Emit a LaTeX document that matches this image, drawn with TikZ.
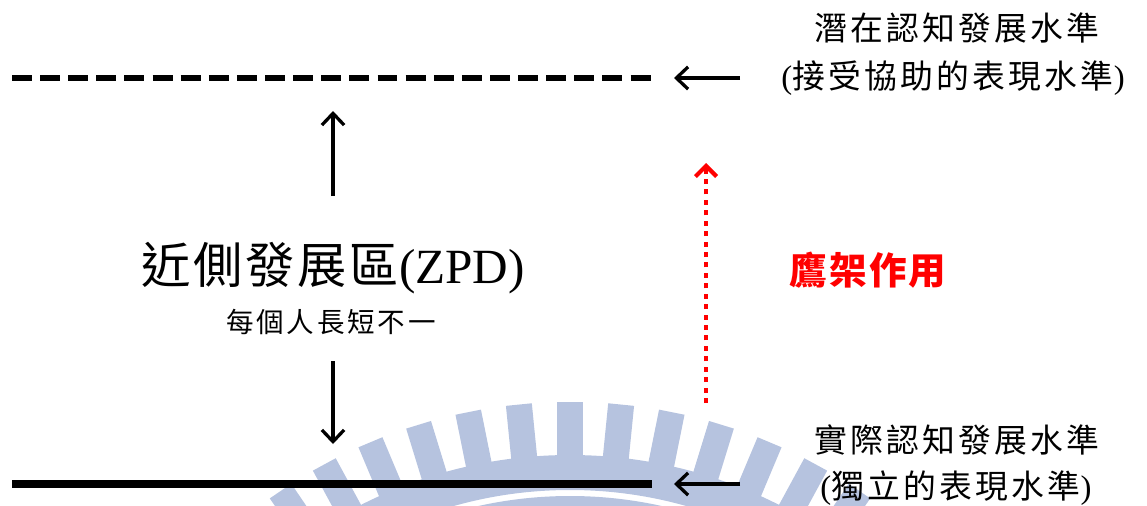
\documentclass[tikz,border=0pt]{standalone}
\usepackage{fontspec}
\setmainfont{Liberation Serif}
\newfontfamily\cjk[LetterSpace=10]{Noto Sans CJK TC}
\newfontfamily\cjkz[LetterSpace=6]{Noto Sans CJK TC}
\usetikzlibrary{arrows.meta}
\definecolor{wm}{RGB}{182,195,223}
\definecolor{scaf}{RGB}{255,0,0}
\tikzset{
  lvl/.style={inner sep=0pt, font=\fontsize{28}{32}\selectfont\cjk},
  zpdtxt/.style={inner sep=0pt, font=\fontsize{42}{46}\selectfont\cjkz},
  subtxt/.style={inner sep=0pt, font=\fontsize{23.5}{27}\selectfont\cjk},
  scaftxt/.style={inner sep=0pt, text=scaf, font=\fontsize{32}{36}\selectfont\cjkz\bfseries},
  arr/.style={line width=2.8pt, -{Straight Barb[length=10pt,width=19pt]}},
  redarr/.style={scaf, line width=3.6pt, dash pattern=on 4.3pt off 4.6pt, -{Straight Barb[length=9pt,width=18pt]}},
  potline/.style={line width=4.3pt, dash pattern=on 17pt off 7pt},
  actline/.style={line width=6pt},
}
\begin{document}
\begin{tikzpicture}[x=0.03cm,y=-0.03cm]
\useasboundingbox (0,0) rectangle (1147,506);
% watermark
\begin{scope}
\clip (0,0) rectangle (1147,506);
\fill[wm, even odd rule] (570,917) circle[radius=462] (570,917) circle[radius=427];
\fill[wm, even odd rule] (570,917) circle[radius=421] (570,917) circle[radius=380];
\foreach \k in {-6,...,6}{
  \fill[wm, rotate around={\k*5.7:(570,917)}] (557,402) rectangle (583,460);
}
\end{scope}
% levels
\coordinate (dL) at (12,78);
\coordinate (dR) at (652,78);
\draw[potline] (dL) -- (dR);
\coordinate (sL) at (12,484);
\coordinate (sR) at (652,484);
\draw[actline] (sL) -- (sR);
% texts
\node[lvl] (pot1) at (957,28) {潛在認知發展水準};
\node[lvl] (pot2) at (953,78) {{\rmfamily(}接受協助的表現水準{\rmfamily)}};
\node[lvl] (act1) at (957,440) {實際認知發展水準};
\node[lvl] (act2) at (956,488) {{\rmfamily(}獨立的表現水準{\rmfamily)}};
\node[zpdtxt] (zpd) at (333,268) {近側發展區{\rmfamily(ZPD)}};
\node[subtxt] (sub) at (331,322) {每個人長短不一};
\node[scaftxt] (scaf) at (868,270) {鷹架作用};
% arrows
\coordinate (pa) at (740,78);
\coordinate (pb) at (674,78);
\draw[arr] (pa) -- (pb);
\coordinate (qa) at (740,484);
\coordinate (qb) at (674,484);
\draw[arr] (qa) -- (qb);
\coordinate (upA) at (333,196);
\coordinate (upB) at (333,111);
\draw[arr] (upA) -- (upB);
\coordinate (dnA) at (333,361);
\coordinate (dnB) at (333,444);
\draw[arr] (dnA) -- (dnB);
\coordinate (rA) at (706,403);
\coordinate (rB) at (706,163);
\draw[redarr] (rA) -- (rB);
\end{tikzpicture}
\end{document}
